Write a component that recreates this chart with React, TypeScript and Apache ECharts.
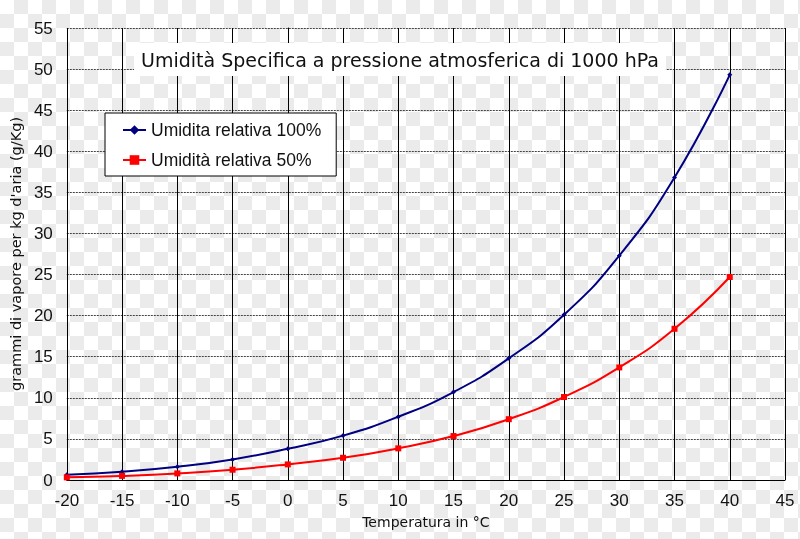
import React, { useEffect, useRef } from "react";
import * as echarts from "echarts";

const temperatures = [-20, -15, -10, -5, 0, 5, 10, 15, 20, 25, 30, 35, 40];
const rh100 = [0.65, 1.0, 1.6, 2.5, 3.8, 5.4, 7.7, 10.7, 14.8, 20.1, 27.3, 36.8, 49.3];
const rh50 = [0.32, 0.5, 0.8, 1.25, 1.9, 2.7, 3.85, 5.35, 7.4, 10.1, 13.7, 18.4, 24.7];
const seriesNames = ["Umidita relativa 100%", "Umidità relativa 50%"];
const titleText = "Umidità Specifica a pressione atmosferica di 1000 hPa";
const xName = "Temperatura in °C";
const yName = "grammi di vapore per kg d'aria (g/Kg)";

export default function App() {
  const ref = useRef<HTMLDivElement>(null);
  useEffect(() => {
    if (!ref.current) return;
    const chart = echarts.init(ref.current, null, { renderer: "svg" });
    const font = "Liberation Sans, Arial, sans-serif";
    const wide = "DejaVu Sans, sans-serif";
    chart.setOption({
      animation: false,
      textStyle: { fontFamily: font },
      title: {
        text: titleText,
        left: "center",
        top: 43,
        backgroundColor: "#ffffff",
        padding: [7, 7],
        textStyle: { fontSize: 19, fontWeight: "normal", color: "#111", fontFamily: wide },
      },
      legend: {
        orient: "vertical",
        left: 105,
        top: 113,
        padding: [8, 15, 7, 17],
        itemGap: 12,
        itemWidth: 23,
        itemHeight: 12,
        backgroundColor: "#ffffff",
        borderColor: "#000",
        borderWidth: 1,
        textStyle: { fontSize: 17.5, color: "#111", fontFamily: font },
        data: seriesNames,
      },
      grid: { left: 65, right: 15, top: 28, bottom: 59 },
      xAxis: {
        type: "value",
        min: -20,
        max: 45,
        interval: 5,
        name: xName,
        nameLocation: "middle",
        nameGap: 35,
        nameTextStyle: { fontSize: 14, color: "#111", fontFamily: wide },
        axisLine: { show: true, lineStyle: { color: "#000", width: 1 } },
        axisTick: { show: false },
        axisLabel: { fontSize: 17, color: "#111", margin: 12, fontFamily: font },
        splitLine: { show: true, lineStyle: { color: "#000", width: 1, type: "solid" } },
      },
      yAxis: {
        type: "value",
        min: 0,
        max: 55,
        interval: 5,
        name: yName,
        nameLocation: "middle",
        nameGap: 36,
        nameTextStyle: { fontSize: 14.5, color: "#111", fontFamily: wide },
        axisLine: { show: true, lineStyle: { color: "#000", width: 1 } },
        axisTick: { show: false },
        axisLabel: { fontSize: 17, color: "#111", margin: 14, fontFamily: font },
        splitLine: { show: true, lineStyle: { color: "#444", width: 1, type: [2, 1] } },
      },
      series: [
        {
          name: seriesNames[0],
          type: "line",
          smooth: true,
          data: temperatures.map((t, i) => [t, rh100[i]]),
          symbol: "diamond",
          symbolSize: 5,
          lineStyle: { color: "#000080", width: 2 },
          itemStyle: { color: "#000080" },
          z: 3,
        },
        {
          name: seriesNames[1],
          type: "line",
          smooth: true,
          data: temperatures.map((t, i) => [t, rh50[i]]),
          symbol: "rect",
          symbolSize: 6,
          lineStyle: { color: "#ff0000", width: 2 },
          itemStyle: { color: "#ff0000" },
          z: 3,
        },
      ],
    });
    return () => chart.dispose();
  }, []);
  return (
    <div
      style={{
        position: "fixed",
        left: 0,
        top: 0,
        width: 800,
        height: 539,
        background: "repeating-conic-gradient(#ebebeb 0% 25%, #ffffff 0% 50%) 0 0 / 28px 28px",
      }}
    >
      <div ref={ref} style={{ width: 800, height: 539 }} />
    </div>
  );
}
